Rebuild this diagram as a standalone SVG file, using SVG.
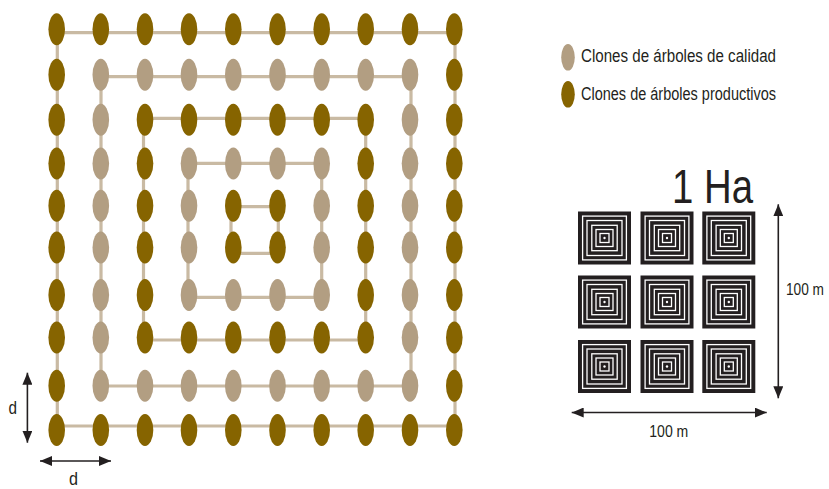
<svg xmlns="http://www.w3.org/2000/svg" xmlns:xlink="http://www.w3.org/1999/xlink" width="829" height="489" viewBox="0 0 829 489">
<style>
.d{fill:#866400}
.l{fill:#b29e82}
.c{fill:none;stroke:#c9baa3;stroke-width:3.2}
.t{font-family:"Liberation Sans",Arial,sans-serif;fill:#231f20}
.a{stroke:#231f20;stroke-width:1.6;fill:none}
</style>
<defs>
<marker id="ah" markerUnits="userSpaceOnUse" markerWidth="12" markerHeight="10" refX="12" refY="5" orient="auto-start-reverse">
<path d="M0,0 L12,5 L0,10 z" fill="#231f20"/>
</marker>
<g id="sq">
<rect x="0" y="0" width="53" height="53" fill="#231f20"/>
<g fill="none" stroke="#fff" stroke-width="1.3">
<rect x="4.6" y="4.6" width="43.8" height="43.8"/>
<rect x="9" y="9" width="35" height="35"/>
<rect x="13.8" y="13.8" width="25.4" height="25.4"/>
<rect x="18" y="18" width="17" height="17"/>
<rect x="22" y="22" width="9" height="9"/>
</g>
<circle cx="26.5" cy="26.5" r="1.2" fill="#fff"/>
</g>
</defs>
<rect width="829" height="489" fill="#fff"/>
<g id="connectors">
<path class="c" d="M57.3 32.7 H455 V426 H57.3 Z"/>
<path class="c" d="M101 76.7 H411 V386 H101 Z"/>
<path class="c" d="M143.5 118.3 H365.7 V340 H143.5 Z"/>
<path class="c" d="M188 163.3 H321.7 V297.3 H188 Z"/>
<path class="c" d="M231 206.7 H278.3 V253.3 H231 Z"/>
</g>
<g id="trees">
<g id="r0c0"><ellipse class="d" cx="56.7" cy="29.2" rx="8.3" ry="16"/></g>
<g id="r0c1"><ellipse class="d" cx="100.8" cy="29.2" rx="8.3" ry="16"/></g>
<g id="r0c2"><ellipse class="d" cx="145" cy="29.2" rx="8.3" ry="16"/></g>
<g id="r0c3"><ellipse class="d" cx="189" cy="29.2" rx="8.3" ry="16"/></g>
<g id="r0c4"><ellipse class="d" cx="233.3" cy="29.2" rx="8.3" ry="16"/></g>
<g id="r0c5"><ellipse class="d" cx="277.5" cy="29.2" rx="8.3" ry="16"/></g>
<g id="r0c6"><ellipse class="d" cx="321.7" cy="29.2" rx="8.3" ry="16"/></g>
<g id="r0c7"><ellipse class="d" cx="365.7" cy="29.2" rx="8.3" ry="16"/></g>
<g id="r0c8"><ellipse class="d" cx="410" cy="29.2" rx="8.3" ry="16"/></g>
<g id="r0c9"><ellipse class="d" cx="454.3" cy="29.2" rx="8.3" ry="16"/></g>

<g id="r1c0"><ellipse class="d" cx="56.7" cy="74.7" rx="8.3" ry="16"/></g>
<g id="r1c1"><ellipse class="l" cx="100.8" cy="74.7" rx="8.3" ry="16"/></g>
<g id="r1c2"><ellipse class="l" cx="145" cy="74.7" rx="8.3" ry="16"/></g>
<g id="r1c3"><ellipse class="l" cx="189" cy="74.7" rx="8.3" ry="16"/></g>
<g id="r1c4"><ellipse class="l" cx="233.3" cy="74.7" rx="8.3" ry="16"/></g>
<g id="r1c5"><ellipse class="l" cx="277.5" cy="74.7" rx="8.3" ry="16"/></g>
<g id="r1c6"><ellipse class="l" cx="321.7" cy="74.7" rx="8.3" ry="16"/></g>
<g id="r1c7"><ellipse class="l" cx="365.7" cy="74.7" rx="8.3" ry="16"/></g>
<g id="r1c8"><ellipse class="l" cx="410" cy="74.7" rx="8.3" ry="16"/></g>
<g id="r1c9"><ellipse class="d" cx="454.3" cy="74.7" rx="8.3" ry="16"/></g>

<g id="r2c0"><ellipse class="d" cx="56.7" cy="119.8" rx="8.3" ry="16"/></g>
<g id="r2c1"><ellipse class="l" cx="100.8" cy="119.8" rx="8.3" ry="16"/></g>
<g id="r2c2"><ellipse class="d" cx="145" cy="119.8" rx="8.3" ry="16"/></g>
<g id="r2c3"><ellipse class="d" cx="189" cy="119.8" rx="8.3" ry="16"/></g>
<g id="r2c4"><ellipse class="d" cx="233.3" cy="119.8" rx="8.3" ry="16"/></g>
<g id="r2c5"><ellipse class="d" cx="277.5" cy="119.8" rx="8.3" ry="16"/></g>
<g id="r2c6"><ellipse class="d" cx="321.7" cy="119.8" rx="8.3" ry="16"/></g>
<g id="r2c7"><ellipse class="d" cx="365.7" cy="119.8" rx="8.3" ry="16"/></g>
<g id="r2c8"><ellipse class="l" cx="410" cy="119.8" rx="8.3" ry="16"/></g>
<g id="r2c9"><ellipse class="d" cx="454.3" cy="119.8" rx="8.3" ry="16"/></g>

<g id="r3c0"><ellipse class="d" cx="56.7" cy="163.5" rx="8.3" ry="16"/></g>
<g id="r3c1"><ellipse class="l" cx="100.8" cy="163.5" rx="8.3" ry="16"/></g>
<g id="r3c2"><ellipse class="d" cx="145" cy="163.5" rx="8.3" ry="16"/></g>
<g id="r3c3"><ellipse class="l" cx="189" cy="163.5" rx="8.3" ry="16"/></g>
<g id="r3c4"><ellipse class="l" cx="233.3" cy="163.5" rx="8.3" ry="16"/></g>
<g id="r3c5"><ellipse class="l" cx="277.5" cy="163.5" rx="8.3" ry="16"/></g>
<g id="r3c6"><ellipse class="l" cx="321.7" cy="163.5" rx="8.3" ry="16"/></g>
<g id="r3c7"><ellipse class="d" cx="365.7" cy="163.5" rx="8.3" ry="16"/></g>
<g id="r3c8"><ellipse class="l" cx="410" cy="163.5" rx="8.3" ry="16"/></g>
<g id="r3c9"><ellipse class="d" cx="454.3" cy="163.5" rx="8.3" ry="16"/></g>

<g id="r4c0"><ellipse class="d" cx="56.7" cy="205.8" rx="8.3" ry="16"/></g>
<g id="r4c1"><ellipse class="l" cx="100.8" cy="205.8" rx="8.3" ry="16"/></g>
<g id="r4c2"><ellipse class="d" cx="145" cy="205.8" rx="8.3" ry="16"/></g>
<g id="r4c3"><ellipse class="l" cx="189" cy="205.8" rx="8.3" ry="16"/></g>
<g id="r4c4"><ellipse class="d" cx="233.3" cy="205.8" rx="8.3" ry="16"/></g>
<g id="r4c5"><ellipse class="d" cx="277.5" cy="205.8" rx="8.3" ry="16"/></g>
<g id="r4c6"><ellipse class="l" cx="321.7" cy="205.8" rx="8.3" ry="16"/></g>
<g id="r4c7"><ellipse class="d" cx="365.7" cy="205.8" rx="8.3" ry="16"/></g>
<g id="r4c8"><ellipse class="l" cx="410" cy="205.8" rx="8.3" ry="16"/></g>
<g id="r4c9"><ellipse class="d" cx="454.3" cy="205.8" rx="8.3" ry="16"/></g>

<g id="r5c0"><ellipse class="d" cx="56.7" cy="247.5" rx="8.3" ry="16"/></g>
<g id="r5c1"><ellipse class="l" cx="100.8" cy="247.5" rx="8.3" ry="16"/></g>
<g id="r5c2"><ellipse class="d" cx="145" cy="247.5" rx="8.3" ry="16"/></g>
<g id="r5c3"><ellipse class="l" cx="189" cy="247.5" rx="8.3" ry="16"/></g>
<g id="r5c4"><ellipse class="d" cx="233.3" cy="247.5" rx="8.3" ry="16"/></g>
<g id="r5c5"><ellipse class="d" cx="277.5" cy="247.5" rx="8.3" ry="16"/></g>
<g id="r5c6"><ellipse class="l" cx="321.7" cy="247.5" rx="8.3" ry="16"/></g>
<g id="r5c7"><ellipse class="d" cx="365.7" cy="247.5" rx="8.3" ry="16"/></g>
<g id="r5c8"><ellipse class="l" cx="410" cy="247.5" rx="8.3" ry="16"/></g>
<g id="r5c9"><ellipse class="d" cx="454.3" cy="247.5" rx="8.3" ry="16"/></g>

<g id="r6c0"><ellipse class="d" cx="56.7" cy="295" rx="8.3" ry="16"/></g>
<g id="r6c1"><ellipse class="l" cx="100.8" cy="295" rx="8.3" ry="16"/></g>
<g id="r6c2"><ellipse class="d" cx="145" cy="295" rx="8.3" ry="16"/></g>
<g id="r6c3"><ellipse class="l" cx="189" cy="295" rx="8.3" ry="16"/></g>
<g id="r6c4"><ellipse class="l" cx="233.3" cy="295" rx="8.3" ry="16"/></g>
<g id="r6c5"><ellipse class="l" cx="277.5" cy="295" rx="8.3" ry="16"/></g>
<g id="r6c6"><ellipse class="l" cx="321.7" cy="295" rx="8.3" ry="16"/></g>
<g id="r6c7"><ellipse class="d" cx="365.7" cy="295" rx="8.3" ry="16"/></g>
<g id="r6c8"><ellipse class="l" cx="410" cy="295" rx="8.3" ry="16"/></g>
<g id="r6c9"><ellipse class="d" cx="454.3" cy="295" rx="8.3" ry="16"/></g>

<g id="r7c0"><ellipse class="d" cx="56.7" cy="337.5" rx="8.3" ry="16"/></g>
<g id="r7c1"><ellipse class="l" cx="100.8" cy="337.5" rx="8.3" ry="16"/></g>
<g id="r7c2"><ellipse class="d" cx="145" cy="337.5" rx="8.3" ry="16"/></g>
<g id="r7c3"><ellipse class="d" cx="189" cy="337.5" rx="8.3" ry="16"/></g>
<g id="r7c4"><ellipse class="d" cx="233.3" cy="337.5" rx="8.3" ry="16"/></g>
<g id="r7c5"><ellipse class="d" cx="277.5" cy="337.5" rx="8.3" ry="16"/></g>
<g id="r7c6"><ellipse class="d" cx="321.7" cy="337.5" rx="8.3" ry="16"/></g>
<g id="r7c7"><ellipse class="d" cx="365.7" cy="337.5" rx="8.3" ry="16"/></g>
<g id="r7c8"><ellipse class="l" cx="410" cy="337.5" rx="8.3" ry="16"/></g>
<g id="r7c9"><ellipse class="d" cx="454.3" cy="337.5" rx="8.3" ry="16"/></g>

<g id="r8c0"><ellipse class="d" cx="56.7" cy="385.8" rx="8.3" ry="16"/></g>
<g id="r8c1"><ellipse class="l" cx="100.8" cy="385.8" rx="8.3" ry="16"/></g>
<g id="r8c2"><ellipse class="l" cx="145" cy="385.8" rx="8.3" ry="16"/></g>
<g id="r8c3"><ellipse class="l" cx="189" cy="385.8" rx="8.3" ry="16"/></g>
<g id="r8c4"><ellipse class="l" cx="233.3" cy="385.8" rx="8.3" ry="16"/></g>
<g id="r8c5"><ellipse class="l" cx="277.5" cy="385.8" rx="8.3" ry="16"/></g>
<g id="r8c6"><ellipse class="l" cx="321.7" cy="385.8" rx="8.3" ry="16"/></g>
<g id="r8c7"><ellipse class="l" cx="365.7" cy="385.8" rx="8.3" ry="16"/></g>
<g id="r8c8"><ellipse class="l" cx="410" cy="385.8" rx="8.3" ry="16"/></g>
<g id="r8c9"><ellipse class="d" cx="454.3" cy="385.8" rx="8.3" ry="16"/></g>

<g id="r9c0"><ellipse class="d" cx="56.7" cy="430" rx="8.3" ry="16"/></g>
<g id="r9c1"><ellipse class="d" cx="100.8" cy="430" rx="8.3" ry="16"/></g>
<g id="r9c2"><ellipse class="d" cx="145" cy="430" rx="8.3" ry="16"/></g>
<g id="r9c3"><ellipse class="d" cx="189" cy="430" rx="8.3" ry="16"/></g>
<g id="r9c4"><ellipse class="d" cx="233.3" cy="430" rx="8.3" ry="16"/></g>
<g id="r9c5"><ellipse class="d" cx="277.5" cy="430" rx="8.3" ry="16"/></g>
<g id="r9c6"><ellipse class="d" cx="321.7" cy="430" rx="8.3" ry="16"/></g>
<g id="r9c7"><ellipse class="d" cx="365.7" cy="430" rx="8.3" ry="16"/></g>
<g id="r9c8"><ellipse class="d" cx="410" cy="430" rx="8.3" ry="16"/></g>
<g id="r9c9"><ellipse class="d" cx="454.3" cy="430" rx="8.3" ry="16"/></g>
</g>
<g id="spacing">
<line class="a" x1="27.4" y1="372.7" x2="27.4" y2="442.7" marker-start="url(#ah)" marker-end="url(#ah)"/>
<line class="a" x1="40" y1="461" x2="111" y2="461" marker-start="url(#ah)" marker-end="url(#ah)"/>
<text class="t" x="8.5" y="413.5" font-size="18" textLength="8.5" lengthAdjust="spacingAndGlyphs">d</text>
<text class="t" x="69" y="485" font-size="18" textLength="9" lengthAdjust="spacingAndGlyphs">d</text>
</g>
<g id="legend">
<g id="legend-calidad">
<ellipse class="l" cx="568" cy="57.3" rx="6.8" ry="13.3"/>
<text class="t" x="581" y="62.3" font-size="17.5" textLength="195" lengthAdjust="spacingAndGlyphs">Clones de árboles de calidad</text>
</g>
<g id="legend-productivos">
<ellipse class="d" cx="568" cy="94.3" rx="6.8" ry="13.3"/>
<text class="t" x="581" y="99.5" font-size="17.5" textLength="195" lengthAdjust="spacingAndGlyphs">Clones de árboles productivos</text>
</g>
</g>
<g id="hectare">
<text class="t" x="672" y="203.3" font-size="48" textLength="81" lengthAdjust="spacingAndGlyphs">1 Ha</text>
<use id="sq1" xlink:href="#sq" x="578" y="211.5"/>
<use id="sq2" xlink:href="#sq" x="640.5" y="211.5"/>
<use id="sq3" xlink:href="#sq" x="702.3" y="211.5"/>
<use id="sq4" xlink:href="#sq" x="578" y="275.5"/>
<use id="sq5" xlink:href="#sq" x="640.5" y="275.5"/>
<use id="sq6" xlink:href="#sq" x="702.3" y="275.5"/>
<use id="sq7" xlink:href="#sq" x="578" y="340"/>
<use id="sq8" xlink:href="#sq" x="640.5" y="340"/>
<use id="sq9" xlink:href="#sq" x="702.3" y="340"/>
<line class="a" x1="778.3" y1="204.3" x2="778.3" y2="398.3" marker-start="url(#ah)" marker-end="url(#ah)"/>
<line class="a" x1="571.7" y1="412.5" x2="766.7" y2="412.5" marker-start="url(#ah)" marker-end="url(#ah)"/>
<text class="t" x="786" y="295" font-size="16" textLength="38" lengthAdjust="spacingAndGlyphs">100 m</text>
<text class="t" x="649.3" y="436.7" font-size="16" textLength="39" lengthAdjust="spacingAndGlyphs">100 m</text>
</g>
</svg>
